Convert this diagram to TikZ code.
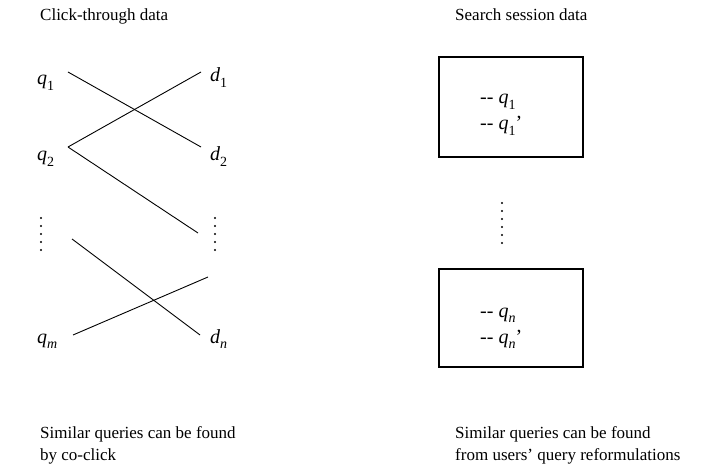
\documentclass[tikz,border=0pt]{standalone}
\usepackage{fontspec}
\setmainfont{Liberation Serif}
\newcommand{\sbs}[1]{\raisebox{-0.28em}{\fontsize{14}{14}\selectfont #1}}
\newcommand{\qv}[1]{\textit{q}\sbs{#1}}
\newcommand{\dv}[1]{\textit{d}\sbs{#1}}
\begin{document}
\begin{tikzpicture}[x=1pt,y=-1pt,
  txt/.style={anchor=base west,inner sep=0pt,font=\fontsize{17}{22}\selectfont},
  lbl/.style={anchor=base west,inner sep=0pt,font=\fontsize{20}{24}\selectfont},
  link/.style={line width=0.9pt},
  sbox/.style={draw,line width=2pt},
  dot/.style={fill,circle,inner sep=0pt,minimum size=2.2pt}]
\useasboundingbox (0,0) rectangle (713,476);
% titles
\node[txt] (t1) at (40,21) {Click-through data};
\node[txt] (t2) at (455,21) {Search session data};
% left labels
\node[lbl] (q1) at (37,85) {\qv{1}};
\node[lbl] (q2) at (37,161) {\qv{2}};
\node[lbl] (qm) at (37,343) {\qv{\textit{m}}};
\node[lbl] (d1) at (210,82) {\dv{1}};
\node[lbl] (d2) at (210,161) {\dv{2}};
\node[lbl] (dn) at (210,343) {\dv{\textit{n}}};
% link end points
\coordinate (a1) at (68,72);
\coordinate (b1) at (201,147);
\coordinate (a2) at (68,147);
\coordinate (b2) at (201,72);
\coordinate (b3) at (198,233);
\coordinate (a4) at (72,239);
\coordinate (b4) at (200,335);
\coordinate (a5) at (73,335);
\coordinate (b5) at (208,277);
\draw[link] (a1) -- (b1);
\draw[link] (a2) -- (b2);
\draw[link] (a2) -- (b3);
\draw[link] (a4) -- (b4);
\draw[link] (a5) -- (b5);
% vertical dots
\foreach \i in {0,...,4} {
  \node[dot] (ld\i) at (41,218+8*\i) {};
  \node[dot] (rd\i) at (215,218+8*\i) {};
}
\foreach \i in {0,...,5} {
  \node[dot] (md\i) at (502,203+8*\i) {};
}
% session boxes
\node[sbox,minimum width=144pt,minimum height=100pt,inner sep=0pt] (box1) at (511,107) {};
\node[sbox,minimum width=144pt,minimum height=98pt,inner sep=0pt] (box2) at (511,318) {};
\node[lbl] (s1) at (480,104) {-{}- \qv{1}};
\node[lbl] (s2) at (480,130) {-{}- \qv{1}’};
\node[lbl] (s3) at (480,317) {-{}- \qv{\textit{n}}};
\node[lbl] (s4) at (480,343) {-{}- \qv{\textit{n}}’};
% captions
\node[txt] (c1) at (40,438) {Similar queries can be found};
\node[txt] (c2) at (40,460) {by co-click};
\node[txt] (c3) at (455,438) {Similar queries can be found};
\node[txt] (c4) at (455,460) {from users’ query reformulations};
\end{tikzpicture}
\end{document}
